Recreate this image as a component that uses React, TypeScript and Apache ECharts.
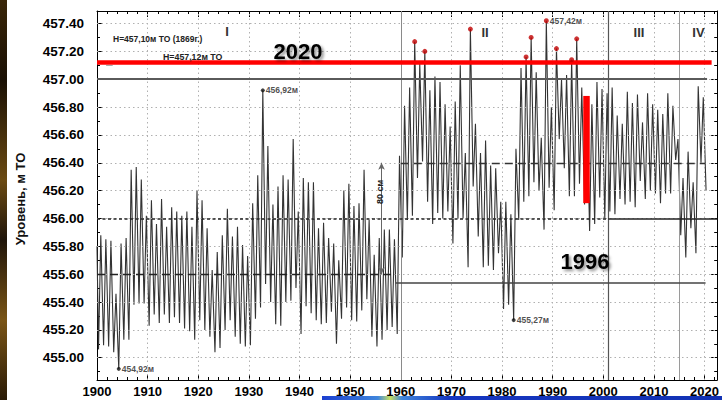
import React, { useEffect, useRef } from "react";
import * as echarts from "echarts";

// ---- data ----
const firstYear = 1900;
const initialLevel = 455.8; // level at the very start of 1900
// annual spring minimum, 1900..2020
const springMin = [
  455.06, 455.09, 455.08, 455.04, 454.92, 455.13, 455.13, 455.38, 455.39, 455.39,
  455.23, 455.31, 455.25, 455.31, 455.25, 455.29, 455.25, 455.21, 455.19, 455.13,
  455.27, 455.2, 455.15, 455.04, 455.07, 455.2, 455.27, 455.15, 455.1, 455.08,
  455.09, 455.28, 455.36, 455.53, 455.4, 455.24, 455.23, 455.4, 455.41, 455.5,
  455.17, 455.37, 455.32, 455.27, 455.24, 455.25, 455.33, 455.1, 455.28, 455.36,
  455.27, 455.26, 455.34, 455.42, 455.15, 455.08, 455.13, 455.2, 455.22, 455.17,
  455.72, 455.99, 456.02, 456.29, 456.41, 456.12, 455.96, 456.04, 456.0, 456.05,
  455.82, 456.0, 456.0, 455.65, 456.23, 455.87, 455.65, 455.66, 455.63, 455.75,
  455.35, 455.38, 455.27, 455.99, 456.12, 456.16, 456.26, 456.2, 455.92, 456.22,
  456.06, 456.57, 456.36, 456.16, 456.16, 456.25, 456.1, 455.91, 455.96, 456.15,
  456.0, 456.05, 456.03, 456.14, 456.1, 456.12, 456.08, 456.27, 456.14, 456.2,
  456.18, 456.11, 456.18, 456.18, 456.42, 455.88, 455.72, 455.93, 455.75, 456.4,
  456.2,
];
// annual autumn maximum, 1900..2019
const autumnMax = [
  455.88, 455.85, 455.84, 455.46, 455.82, 455.86, 456.35, 456.37, 456.28, 456.02,
  456.13, 455.96, 456.14, 455.94, 456.08, 456.05, 456.02, 456.05, 455.94, 456.2,
  456.13, 455.93, 455.63, 455.76, 455.88, 456.07, 455.87, 455.94, 455.81, 455.73,
  456.11, 456.31, 456.92, 456.52, 456.1, 456.23, 456.31, 456.28, 456.57, 456.05,
  456.29, 456.26, 456.26, 455.93, 455.97, 455.86, 455.82, 455.7, 456.2, 456.25,
  456.09, 456.11, 456.35, 455.99, 455.74, 455.86, 455.92, 455.92, 455.85, 456.45,
  456.81, 456.94, 457.27, 457.11, 457.2, 456.92, 457.02, 456.98, 456.82, 456.66,
  456.84, 457.1, 456.47, 457.36, 456.68, 456.47, 456.56, 456.38, 456.36, 456.12,
  456.12, 456.03, 456.5, 457.08, 457.16, 457.3, 457.05, 456.58, 457.42, 456.8,
  457.22, 457.0, 457.03, 457.14, 457.29, 456.94, 456.8, 456.82, 456.98, 456.93,
  456.9, 456.94, 456.74, 456.68, 456.91, 456.83, 456.89, 456.69, 456.9, 456.82,
  456.78, 456.75, 456.9, 456.81, 456.57, 456.29, 456.48, 456.26, 456.95, 456.87,
];
const minPhase = 0.3; // fraction of year of the spring minimum
const maxPhase = 0.75; // fraction of year of the autumn maximum

const labeledLowYears = [1904, 1982];
const labeledHighYears = [1932];
const redPeakYears = [1962, 1964, 1973, 1984, 1985, 1988, 1990, 1993, 1994];
const redLabeledYears = [1988];

const yearTicks = [1900, 1910, 1920, 1930, 1940, 1950, 1960, 1970, 1980, 1990, 2000, 2010, 2020];
const yearMinorTicks = [1902, 1904, 1906, 1908, 1912, 1914, 1916, 1918, 1922, 1924, 1926, 1928, 1932, 1934, 1936, 1938, 1942, 1944, 1946, 1948, 1952, 1954, 1956, 1958, 1962, 1964, 1966, 1968, 1972, 1974, 1976, 1978, 1982, 1984, 1986, 1988, 1992, 1994, 1996, 1998, 2002, 2004, 2006, 2008, 2012, 2014, 2016, 2018, 2022];
const levelTicks = [455.0, 455.2, 455.4, 455.6, 455.8, 456.0, 456.2, 456.4, 456.6, 456.8, 457.0, 457.2, 457.4];
const levelMinorTicks = [454.9, 455.1, 455.3, 455.5, 455.7, 455.9, 456.1, 456.3, 456.5, 456.7, 456.9, 457.1, 457.3];

// reference levels
const xMin = 1900;
const xMax = 2022.5;
const yMin = 454.84;
const yMax = 457.49;
const meanBefore1960 = 455.6;
const meanAfter1960 = 456.4;
const upperLimit = 457.0;
const lowerLimit = 456.0;
const level2020 = 457.12;
const level1869 = 457.1;
const lowLevelAfter1960 = 455.54;
const phaseBoundaries = [1960, 2001, 2015];
const endYear = 2020.5;
const redBar = { year: 1996.67, from: 456.11, to: 456.88 };
const arrowYear = 1956.2;

const FONT = "'Liberation Sans', Arial, sans-serif";

function fmt(v: number) {
  return v.toFixed(2).replace(".", ",") + "м";
}

function buildOption() {
  const levels: number[][] = [[firstYear, initialLevel]];
  springMin.forEach((v, i) => {
    levels.push([firstYear + i + minPhase, v]);
    if (i < autumnMax.length) levels.push([firstYear + i + maxPhase, autumnMax[i]]);
  });

  const blackDots = [
    ...labeledLowYears.map((y) => [y + minPhase, springMin[y - firstYear]]),
    ...labeledHighYears.map((y) => [y + maxPhase, autumnMax[y - firstYear]]),
  ];
  const redDots = redPeakYears.map((y) => ({
    value: [y + maxPhase, autumnMax[y - firstYear]],
    label: { show: redLabeledYears.includes(y) },
  }));

  const seg = (x1: number, y1: number, x2: number, y2: number, ls: any, extra: any = {}) => [
    { coord: [x1, y1], lineStyle: ls, ...extra },
    { coord: [x2, y2], ...extra },
  ];

  const dotted = { color: "#b0b0b0", type: [1.5, 3], width: 1 };
  const tickStyle = { color: "#000", width: 1 };

  const axisX = (position: string, ticks: number[], len: number, showLine: boolean, labels: boolean) => ({
    type: "value",
    min: xMin,
    max: xMax,
    position,
    axisLine: { show: showLine, onZero: false, lineStyle: { color: "#000", width: 1 } },
    axisTick: { show: true, inside: true, length: len, customValues: ticks, lineStyle: tickStyle },
    axisLabel: labels
      ? { show: true, customValues: yearTicks, formatter: (v: number) => String(v), fontSize: 13, fontWeight: "bold", color: "#000", margin: 5, fontFamily: FONT }
      : { show: false },
    splitLine: { show: false },
  });
  const axisY = (position: string, ticks: number[], len: number, showLine: boolean, labels: boolean) => ({
    type: "value",
    min: yMin,
    max: yMax,
    position,
    axisLine: { show: showLine, onZero: false, lineStyle: { color: "#000", width: 1 } },
    axisTick: { show: true, inside: true, length: len, customValues: ticks, lineStyle: tickStyle },
    axisLabel: labels
      ? { show: true, customValues: levelTicks, formatter: (v: number) => v.toFixed(2), fontSize: 13.5, fontWeight: "bold", color: "#000", margin: 13, fontFamily: FONT }
      : { show: false },
    splitLine: { show: false },
  });

  const gridLines = [
    ...yearTicks.filter((v) => v > xMin).map((v) => ({ xAxis: v, lineStyle: dotted })),
    ...levelTicks.map((v) => ({ yAxis: v, lineStyle: dotted })),
  ];

  return {
    animation: false,
    backgroundColor: "#fff",
    grid: { left: 97, right: 0, top: 11, bottom: 20, containLabel: false },
    xAxis: [
      axisX("bottom", yearTicks, 6, true, true),
      axisX("bottom", yearMinorTicks, 3, false, false),
      axisX("top", yearTicks, 6, true, false),
      axisX("top", yearMinorTicks, 3, false, false),
    ],
    yAxis: [
      axisY("left", levelTicks, 6, true, true),
      axisY("left", levelMinorTicks, 3, false, false),
      axisY("right", levelTicks, 6, true, false),
      axisY("right", levelMinorTicks, 3, false, false),
    ],
    series: [
      {
        type: "line",
        data: [],
        z: 1,
        silent: true,
        markLine: {
          silent: true,
          symbol: "none",
          label: { show: false },
          emphasis: { disabled: true },
          data: gridLines,
        },
      },
      {
        type: "line",
        data: levels,
        showSymbol: false,
        symbol: "none",
        lineStyle: { color: "#333", width: 1.1 },
        z: 2,
        silent: true,
      },
      {
        type: "line",
        data: [],
        z: 3,
        silent: true,
        markLine: {
          silent: true,
          symbol: "none",
          label: { show: false },
          emphasis: { disabled: true },
          data: [
            { xAxis: phaseBoundaries[0], lineStyle: { color: "#8a8a8a", width: 1, type: "solid" } },
            { xAxis: phaseBoundaries[1], lineStyle: { color: "#555", width: 1.2, type: "solid" } },
            { xAxis: phaseBoundaries[2], lineStyle: { color: "#9a9a9a", width: 1, type: "solid" } },
            seg(xMin, upperLimit, endYear, upperLimit, { color: "#5a5a5a", width: 2, type: "solid" }),
            seg(xMin, meanBefore1960, 1959, meanBefore1960, { color: "#222", width: 1.3, type: [8, 5] }),
            seg(1960, meanAfter1960, 2020.2, meanAfter1960, { color: "#333", width: 1.3, type: [8, 5] }),
            seg(xMin, lowerLimit, phaseBoundaries[1], lowerLimit, { color: "#222", width: 1.5, type: [3, 2.5] }),
            seg(phaseBoundaries[1], lowerLimit, xMax, lowerLimit, { color: "#222", width: 1.5, type: "solid" }),
            seg(1959, lowLevelAfter1960, 2020.2, lowLevelAfter1960, { color: "#444", width: 1.5, type: "solid" }),
            seg(1901.8, level1869, 1903.1, level1869, { color: "#aaa", width: 1, type: "solid" }),
            seg(xMin, level2020, 2021.4, level2020, { color: "#ff0000", width: 4.5, type: "solid", cap: "butt" }),
            seg(redBar.year, redBar.from, redBar.year, redBar.to, { color: "#ff0000", width: 6.5, type: "solid", cap: "butt" }),
            seg(arrowYear, meanBefore1960, arrowYear, meanAfter1960, { color: "#666", width: 1, type: "solid" }, { symbol: "arrow", symbolSize: [5, 7] }),
          ],
        },
      },
      {
        type: "scatter",
        data: blackDots,
        symbolSize: 4,
        itemStyle: { color: "#111" },
        z: 5,
        silent: true,
        label: {
          show: true,
          position: "right",
          distance: 1,
          fontSize: 8.5,
          fontWeight: "bold",
          color: "#222",
          fontFamily: FONT,
          formatter: (p: any) => fmt(p.value[1]),
        },
      },
      {
        type: "scatter",
        data: redDots,
        symbolSize: 5,
        itemStyle: { color: "#c00000" },
        z: 5,
        silent: true,
        label: {
          position: "right",
          distance: 1,
          fontSize: 8.5,
          fontWeight: "bold",
          color: "#222",
          fontFamily: FONT,
          formatter: (p: any) => fmt(p.value[1]),
        },
      },
    ],
    graphic: [
      {
        type: "rect",
        shape: { x: 0, y: 0, width: 7, height: 400 },
        style: {
          fill: new echarts.graphic.LinearGradient(0, 0, 0, 1, [
            { offset: 0, color: "#3a2608" },
            { offset: 0.2, color: "#1a1004" },
            { offset: 0.45, color: "#6b4a12" },
            { offset: 0.6, color: "#20150a" },
            { offset: 0.8, color: "#7a5516" },
            { offset: 1, color: "#2a1a06" },
          ]),
        },
        z: 10,
      },
      {
        type: "rect",
        shape: { x: 322, y: 396, width: 400, height: 4 },
        style: {
          fill: new echarts.graphic.LinearGradient(0, 0, 1, 0, [
            { offset: 0, color: "#1c3fd0" },
            { offset: 0.14, color: "#3f86dc" },
            { offset: 0.17, color: "#c8e060" },
            { offset: 0.2, color: "#3f86dc" },
            { offset: 0.32, color: "#1636c0" },
            { offset: 1, color: "#1232b4" },
          ]),
        },
        z: 10,
      },
      {
        type: "text",
        x: 20,
        y: 199,
        rotation: Math.PI / 2,
        style: { text: "Уровень, м ТО", font: `bold 13px ${FONT}`, fill: "#111", align: "center", verticalAlign: "middle" },
        z: 10,
      },
      {
        type: "text",
        x: 379.5,
        y: 192,
        rotation: Math.PI / 2,
        style: { text: "80 см", font: `bold 9px ${FONT}`, fill: "#222", align: "center", verticalAlign: "middle" },
        z: 10,
      },
      {
        type: "text",
        x: 113,
        y: 39,
        style: { text: "H=457,10м ТО (1869г.)", font: `bold 8.5px ${FONT}`, fill: "#222", align: "left", verticalAlign: "middle" },
        z: 10,
      },
      {
        type: "text",
        x: 163,
        y: 56.5,
        style: { text: "H=457,12м ТО", font: `bold 8.8px ${FONT}`, fill: "#222", align: "left", verticalAlign: "middle" },
        z: 10,
      },
      ...[
        ["I", 227, 31.5],
        ["II", 485, 32],
        ["III", 639, 32],
        ["IV", 698.5, 32],
      ].map(([t, x, y]) => ({
        type: "text",
        x,
        y,
        style: { text: t, font: `bold 13px ${FONT}`, fill: "#333", align: "center", verticalAlign: "middle" },
        z: 10,
      })),
      ...[
        ["2020", 298, 51.5],
        ["1996", 585, 261.5],
      ].map(([t, x, y]) => ({
        type: "text",
        x,
        y,
        style: {
          text: t,
          font: `bold 22px ${FONT}`,
          fill: "#000",
          align: "center",
          verticalAlign: "middle",
          textShadowColor: "rgba(0,0,0,0.45)",
          textShadowBlur: 3,
          textShadowOffsetX: 2,
          textShadowOffsetY: 2,
        },
        z: 10,
      })),
    ],
  };
}

export default function App() {
  const ref = useRef<HTMLDivElement>(null);
  useEffect(() => {
    const chart = echarts.init(ref.current!, null, { renderer: "svg" });
    chart.setOption(buildOption() as any);
    return () => chart.dispose();
  }, []);
  return (
    <div
      ref={ref}
      style={{ position: "absolute", left: 0, top: 0, width: 722, height: 400, background: "#fff" }}
    />
  );
}
